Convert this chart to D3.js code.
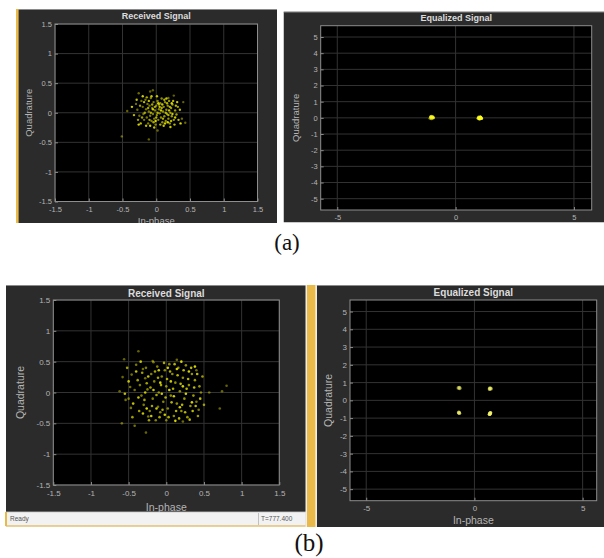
<!DOCTYPE html>
<html>
<head>
<meta charset="utf-8">
<script src="https://cdn.jsdelivr.net/npm/d3@7/dist/d3.min.js"></script>
<style>
  body { margin: 0; background: #fff; }
  svg { display: block; }
</style>
</head>
<body>
<div id="chart"></div>
<script>
// ---- data ----
const titles = ["Received Signal", "Equalized Signal"];
const xLabel = "In-phase";
const yLabel = "Quadrature";
const captions = ["(a)", "(b)"];
const statusLeft = "Ready";
const statusRight = "T=777.400";

const rxTicks = [-1.5, -1, -0.5, 0, 0.5, 1, 1.5];
const eqXTicks = [-5, 0, 5];
const eqYTicks = [5, 4, 3, 2, 1, 0, -1, -2, -3, -4, -5];

// (a) received constellation (I, Q)
const rxA = [
  [-0.05,0.38],[-0.09,0.36],[0.26,0.29],[0.40,0.18],[-0.43,0.03],[-0.11,-0.45],[0.02,-0.30],[0.43,-0.17],
  [-0.51,-0.40],[-0.26,0.33],[0.18,0.25],[0.38,-0.10],
  [-0.30,0.15],[-0.28,0.05],[-0.25,-0.05],[-0.22,0.20],[-0.20,0.10],[-0.19,-0.02],[-0.18,-0.12],[-0.16,0.22],
  [-0.15,0.06],[-0.14,-0.08],[-0.13,0.15],[-0.12,-0.18],[-0.11,0.02],[-0.10,0.12],[-0.09,-0.05],[-0.08,0.25],
  [-0.07,-0.14],[-0.06,0.08],[-0.05,-0.02],[-0.04,0.18],[-0.03,-0.10],[-0.02,0.04],[-0.01,-0.20],[0.00,0.12],
  [0.01,-0.04],[0.02,0.20],[0.03,-0.12],[0.04,0.06],[0.05,-0.01],[0.06,0.16],[0.07,-0.08],[0.08,0.24],
  [0.09,-0.16],[0.10,0.02],[0.11,0.10],[0.12,-0.06],[0.13,0.18],[0.14,-0.14],[0.15,0.05],[0.16,-0.02],
  [0.17,0.12],[0.18,-0.10],[0.19,0.20],[0.20,-0.18],[0.21,0.00],[0.22,0.08],[0.23,-0.06],[0.24,0.14],
  [0.26,-0.12],[0.28,0.04],[0.30,-0.03],[0.32,0.10],[-0.27,-0.12],[-0.24,0.12],[-0.21,-0.08],[-0.17,0.00],
  [-0.14,0.26],[-0.12,0.08],[-0.10,-0.12],[-0.08,0.00],[-0.06,0.14],[-0.04,-0.16],[-0.02,0.10],[0.00,-0.08],
  [0.02,0.00],[0.04,0.14],[0.06,-0.20],[0.08,0.08],[0.10,-0.10],[0.12,0.22],[0.14,0.00],[0.16,0.16],
  [0.18,-0.04],[0.20,0.10],[0.22,-0.14],[0.25,0.20],[0.27,-0.20],[0.29,0.12],[0.33,-0.12],[0.35,0.05],
  [-0.33,-0.04],[-0.29,0.22],[-0.23,-0.18],[-0.18,0.18],[-0.15,-0.22],[-0.11,0.20],[-0.07,0.28],[-0.03,-0.25],
  [0.01,0.28],[0.05,0.10],[0.09,0.14],[0.11,-0.22],[0.15,0.24],[0.19,0.04],[0.21,-0.24],[0.24,-0.02],
  [0.28,-0.08],[0.31,0.18],[-0.36,0.10],[-0.20,0.28],[-0.05,0.06],[0.07,0.04],[0.13,-0.18],[0.03,0.16],
  [-0.09,-0.22],[0.17,-0.16],[0.23,0.16],[-0.26,-0.20],[0.36,-0.18],[-0.01,-0.14]
];

// (a) equalized constellation (BPSK)
const eqA = [
  [-1.05,0.02],[-1.00,0.06],[-0.98,-0.02],[-1.02,-0.05],[-0.95,0.04],[-1.08,-0.03],[-0.97,0.09],[-1.03,0.10],
  [-0.93,0.00],[-1.06,0.07],
  [1.00,0.02],[1.05,-0.03],[0.97,0.05],[1.08,0.01],[1.02,-0.07],[0.95,-0.02],[1.04,0.07],[1.10,-0.04],
  [0.99,-0.06],[1.06,0.04]
];

// (b) received constellation
const rxB = [
  [-0.37,0.67],[-0.56,0.54],[0.80,0.11],[0.57,0.00],[-0.27,-0.65],[-0.59,-0.50],[0.71,-0.26],[0.74,0.02],[-0.62,0.02],
  [-0.58,0.25],[0.40,0.36],[0.22,-0.47],[-0.18,0.51],[0.14,0.53],[-0.17,0.49],[-0.31,0.38],[-0.46,0.29],
  [-0.28,0.23],[-0.48,0.09],[-0.42,0.04],[-0.54,-0.12],[-0.50,-0.10],[-0.47,-0.25],[-0.42,-0.54],[-0.11,-0.23],
  [-0.24,-0.39],[0.00,-0.45],[0.46,0.00],[0.43,-0.28],[0.40,-0.15],
  [-0.40,0.45],[-0.35,0.12],[-0.33,-0.05],[-0.30,-0.20],[-0.27,0.40],[-0.25,0.05],[-0.22,-0.30],[-0.20,0.30],
  [-0.18,-0.10],[-0.16,0.18],[-0.14,-0.45],[-0.12,0.42],[-0.10,0.00],[-0.08,-0.32],[-0.06,0.26],[-0.04,-0.15],
  [-0.02,0.36],[0.00,0.10],[0.02,-0.26],[0.04,0.46],[0.06,-0.05],[0.08,0.30],[0.10,-0.38],[0.12,0.16],
  [0.14,-0.18],[0.16,0.40],[0.18,0.02],[0.20,-0.30],[0.22,0.24],[0.24,-0.10],[0.26,0.44],[0.28,-0.40],
  [0.30,0.12],[0.32,-0.22],[0.34,0.30],[0.36,-0.05],[0.38,0.20],[0.42,-0.38],[0.44,0.10],[0.48,0.26],[0.50,-0.20],
  [-0.52,0.40],[-0.45,-0.40],[-0.38,0.20],[-0.36,-0.30],[-0.32,0.32],[-0.29,-0.12],[-0.26,0.15],[-0.23,-0.45],
  [-0.21,0.08],[-0.19,-0.22],[-0.15,0.34],[-0.13,-0.04],[-0.11,0.24],[-0.09,-0.40],[-0.07,0.12],[-0.05,-0.28],
  [-0.03,0.48],[-0.01,-0.08],[0.01,0.22],[0.03,-0.40],[0.05,0.34],[0.07,-0.16],[0.09,0.06],[0.11,0.46],
  [0.13,-0.30],[0.15,0.28],[0.17,-0.42],[0.19,0.14],[0.21,-0.20],[0.23,0.36],[0.25,-0.32],[0.27,0.06],
  [0.29,0.22],[0.31,-0.44],[0.33,0.40],[0.35,-0.30],[0.37,0.08],[0.39,-0.22],[0.41,0.30],[0.45,-0.10],
  [-0.55,-0.02],[-0.50,0.18],[-0.44,-0.18],[-0.40,0.34],[-0.37,-0.08],[-0.34,0.50],[-0.31,-0.34],[-0.28,0.00],
  [-0.24,0.26],[-0.20,-0.38],[-0.17,0.04],[-0.13,-0.26],[-0.10,0.36],[-0.06,-0.02],[-0.02,-0.36],[0.02,0.40],
  [0.06,0.18],[0.10,-0.06],[0.14,0.38],[0.18,-0.24],[0.22,0.10],[0.26,-0.02],[0.30,0.34],[0.34,-0.16],
  [0.38,0.42],[0.12,-0.46],[-0.08,0.16],[0.04,0.04],[-0.26,-0.26],[0.20,0.50]
];

// (b) equalized constellation (QPSK)
const eqB = [
  [-0.70,0.72],[-0.74,0.70],[-0.68,0.68],[0.72,0.68],[0.76,0.66],[0.70,0.64],
  [-0.70,-0.72],[-0.72,-0.68],[0.72,-0.74],[0.74,-0.70],[0.70,-0.78]
];

// ---- layout ----
const W = 604, H = 558;
const font = "'Liberation Sans', Arial, sans-serif";
const panelBg = "#2b2b2b";
const gridColor = "#333333";
const textColor = "#b4b4b4";
const accent = "#e9b949";

const panels = [
  { box: [16, 9, 261, 214], plot: [55, 257.5, 24, 201.5], xd: [-1.5, 1.5], yd: [-1.5, 1.5],
    xt: rxTicks, yt: rxTicks, title: titles[0], titleY: 15.5, tickFs: 7.5, titleFs: 9,
    xLabY: 221, yLabX: 29, pts: rxA, r: 1.2, color: "#d8d800", stripe: [16, 2.6] },
  { box: [283.5, 11.5, 320.5, 211], plot: [320.7, 591.7, 25.7, 210], xd: [-5.7, 5.75], yd: [-5.7, 5.7],
    xt: eqXTicks, yt: eqYTicks, title: titles[1], titleY: 17.8, tickFs: 7.5, titleFs: 9,
    xLabY: 230, yLabX: 296, pts: eqA, r: 1.5, color: "#ffff20" },
  { box: [6, 285, 300, 241], plot: [53.3, 279.3, 300, 485], xd: [-1.5, 1.5], yd: [-1.5, 1.5],
    xt: rxTicks, yt: rxTicks, title: titles[0], titleY: 293, tickFs: 8, titleFs: 10,
    xLabY: 507, yLabX: 20, pts: rxB, r: 1.3, color: "#d8d800", status: true },
  { box: [316.7, 285, 287.3, 242], plot: [350, 596.7, 300, 500.7], xd: [-5.75, 5.65], yd: [-5.65, 5.65],
    xt: eqXTicks, yt: eqYTicks, title: titles[1], titleY: 292.8, tickFs: 8, titleFs: 10,
    xLabY: 520.5, yLabX: 328.5, pts: eqB, r: 1.9, color: "#f4f46a" }
];

const svg = d3.select("#chart").append("svg")
  .attr("width", W).attr("height", H)
  .style("font-family", font);

panels.forEach((p, idx) => drawPanel(p, idx));

// orange divider between the two (b) windows
svg.append("rect").attr("x", 305.5).attr("y", 285).attr("width", 1.5).attr("height", 242).attr("fill", "#eeeeee");
svg.append("rect").attr("x", 307).attr("y", 285).attr("width", 8.5).attr("height", 242).attr("fill", accent);

// captions
svg.append("text").attr("x", 287).attr("y", 250)
  .attr("text-anchor", "middle").style("font-family", "'Liberation Serif', 'Times New Roman', serif")
  .style("font-size", "23px").attr("fill", "#111").text(captions[0]);
svg.append("text").attr("x", 309).attr("y", 551)
  .attr("text-anchor", "middle").style("font-family", "'Liberation Serif', 'Times New Roman', serif")
  .style("font-size", "25px").attr("fill", "#111").text(captions[1]);

function drawPanel(p, idx) {
  const [bx, by, bw, bh] = p.box;
  const [px0, px1, py0, py1] = p.plot;
  const clipId = "panel-clip-" + idx;
  const plotClip = "plot-clip-" + idx;

  const defs = svg.append("defs");
  defs.append("clipPath").attr("id", clipId)
    .append("rect").attr("x", bx).attr("y", by).attr("width", bw).attr("height", bh);
  defs.append("clipPath").attr("id", plotClip)
    .append("rect").attr("x", px0).attr("y", py0).attr("width", px1 - px0).attr("height", py1 - py0);

  const g = svg.append("g").attr("clip-path", `url(#${clipId})`);

  g.append("rect").attr("x", bx).attr("y", by).attr("width", bw).attr("height", bh).attr("fill", panelBg);
  g.append("line").attr("x1", bx).attr("x2", bx + bw).attr("y1", by + 0.5).attr("y2", by + 0.5)
    .attr("stroke", "#8a8a8a").attr("stroke-width", 1);
  if (p.stripe) {
    g.append("rect").attr("x", p.stripe[0]).attr("y", by).attr("width", p.stripe[1]).attr("height", bh)
      .attr("fill", accent);
  }

  const x = d3.scaleLinear().domain(p.xd).range([px0, px1]);
  const y = d3.scaleLinear().domain(p.yd).range([py1, py0]);

  // plot area
  g.append("rect").attr("x", px0).attr("y", py0).attr("width", px1 - px0).attr("height", py1 - py0)
    .attr("fill", "#000");

  // grid
  const grid = g.append("g").attr("class", "grid");
  grid.selectAll(".gx").data(p.xt).enter().append("line")
    .attr("x1", d => x(d)).attr("x2", d => x(d)).attr("y1", py0).attr("y2", py1)
    .attr("stroke", gridColor).attr("stroke-width", 1);
  grid.selectAll(".gy").data(p.yt).enter().append("line")
    .attr("x1", px0).attr("x2", px1).attr("y1", d => y(d)).attr("y2", d => y(d))
    .attr("stroke", gridColor).attr("stroke-width", 1);

  // axes (ticks inside, labels outside)
  const xAxis = g.append("g").attr("transform", `translate(0,${py1})`)
    .call(d3.axisBottom(x).tickValues(p.xt).tickFormat(d => String(d)).tickSizeInner(-3).tickSizeOuter(0).tickPadding(5));
  const yAxis = g.append("g").attr("transform", `translate(${px0},0)`)
    .call(d3.axisLeft(y).tickValues(p.yt).tickFormat(d => String(d)).tickSizeInner(-3).tickSizeOuter(0).tickPadding(3));
  [xAxis, yAxis].forEach(a => {
    a.select(".domain").remove();
    a.selectAll(".tick line").attr("stroke", "#8c8c8c");
    a.selectAll(".tick text").attr("fill", textColor).style("font-size", p.tickFs + "px").style("font-family", font);
  });

  // points
  const n = p.pts.length;
  g.append("g").attr("clip-path", `url(#${plotClip})`)
    .selectAll("circle").data(p.pts).enter().append("circle")
    .attr("cx", d => x(d[0])).attr("cy", d => y(d[1])).attr("r", p.r)
    .attr("fill", p.color)
    .attr("opacity", (d, i) => 0.45 + 0.55 * i / n);

  // box
  g.append("rect").attr("x", px0).attr("y", py0).attr("width", px1 - px0).attr("height", py1 - py0)
    .attr("fill", "none").attr("stroke", "#8e8e8e").attr("stroke-width", 1);

  // title and labels
  g.append("text").attr("x", (px0 + px1) / 2).attr("y", p.titleY).attr("dy", "0.35em")
    .attr("text-anchor", "middle").attr("fill", "#dcdcdc").style("font-weight", "bold")
    .style("font-size", p.titleFs + "px").text(p.title);
  g.append("text").attr("x", (px0 + px1) / 2).attr("y", p.xLabY).attr("dy", "0.35em")
    .attr("text-anchor", "middle").attr("fill", textColor)
    .style("font-size", (p.titleFs + 0.5) + "px").text(xLabel);
  g.append("text").attr("transform", `translate(${p.yLabX},${(py0 + py1) / 2}) rotate(-90)`)
    .attr("dy", "0.35em").attr("text-anchor", "middle").attr("fill", textColor)
    .style("font-size", (p.titleFs + 0.5) + "px").text(yLabel);

  if (p.status) {
    const sy = 512, sh = 14;
    const sb = svg.append("g");
    sb.append("rect").attr("x", bx).attr("y", sy).attr("width", bw).attr("height", sh)
      .attr("fill", "#f2f2f2").attr("stroke", "#c8c8c8").attr("stroke-width", 0.8);
    sb.append("line").attr("x1", bx).attr("x2", bx).attr("y1", sy).attr("y2", sy + sh)
      .attr("stroke", accent).attr("stroke-width", 2);
    sb.append("line").attr("x1", bx).attr("x2", bx + bw).attr("y1", sy + sh).attr("y2", sy + sh)
      .attr("stroke", accent).attr("stroke-width", 1.2);
    sb.append("line").attr("x1", 258.5).attr("x2", 258.5).attr("y1", sy + 1).attr("y2", sy + sh - 1)
      .attr("stroke", "#c0c0c0");
    sb.append("text").attr("x", bx + 4).attr("y", sy + sh / 2).attr("dy", "0.35em")
      .attr("fill", "#555").style("font-size", "6.5px").text(statusLeft);
    sb.append("text").attr("x", 261).attr("y", sy + sh / 2).attr("dy", "0.35em")
      .attr("fill", "#555").style("font-size", "6.5px").text(statusRight);
  }
}
</script>
</body>
</html>
